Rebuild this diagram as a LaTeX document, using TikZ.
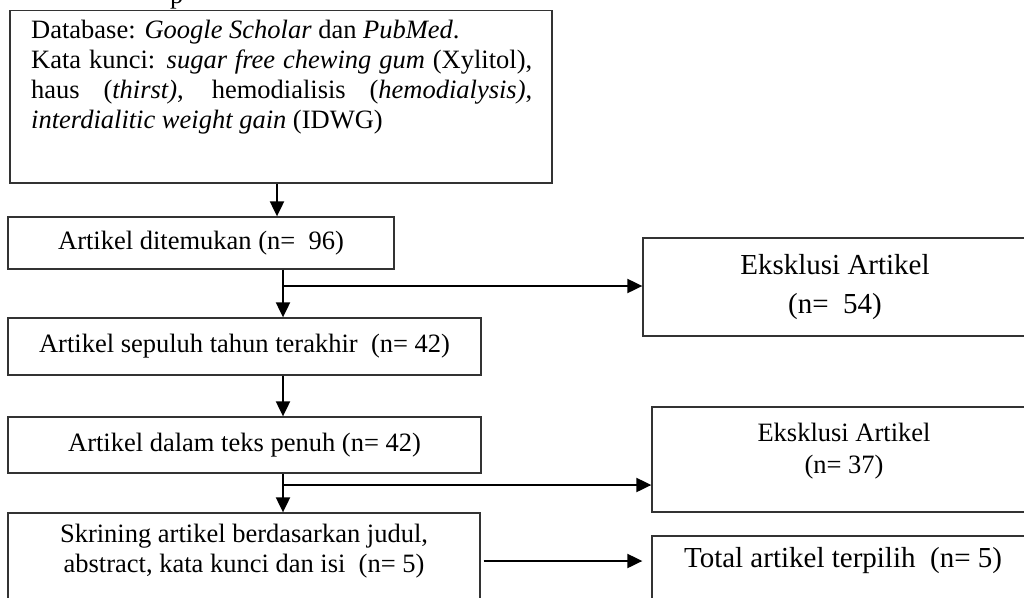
\documentclass[tikz,border=0pt]{standalone}
\usepackage{fontspec}
\setmainfont{Liberation Serif}
\usetikzlibrary{arrows.meta}
\tikzset{
  box/.style={draw=black!80, line width=1.3pt, inner sep=0pt, align=center},
  arr/.style={draw=black, line width=2pt, -{Triangle[length=15pt,width=14pt]}},
  txt/.style={font=\fontsize{26.5}{30}\selectfont},
  txtb/.style={font=\fontsize{26.5}{32}\selectfont},
  bigtxt/.style={font=\fontsize{29}{39}\selectfont},
}
\begin{document}
\begin{tikzpicture}[x=1pt,y=-1pt]
\useasboundingbox (0,0) rectangle (1024,597);
\clip (0,0) rectangle (1024,597);
\fill[white] (0,0) rectangle (1024,597);

% fragment of text above the figure
\node[anchor=base west, inner sep=0pt, txt] (frag) at (170,3) {p};

% boxes
\node[box, minimum width=542pt, minimum height=172.5pt] (db) at (281,96.75) {};
\node[anchor=base west, inner sep=0pt, txt] (dbt) at (31,38) {\parbox[t]{501pt}{Database: \textit{Google Scholar} dan \textit{PubMed}.\\ Kata kunci: \textit{sugar free chewing gum} (Xylitol),\linebreak haus (\textit{thirst)}, hemodialisis (\textit{hemodialysis)},\linebreak \textit{interdialitic weight gain} (IDWG)}};

\node[box, txt, minimum width=386pt, minimum height=52pt] (art1) at (201,243) {Artikel ditemukan (n=~ 96)};
\node[box, bigtxt, minimum width=384pt, minimum height=98pt] (exc1) at (835,287) {Eksklusi Artikel\\(n=~ 54)};
\node[box, txt, minimum width=473pt, minimum height=57pt] (art2) at (244.5,346.5) {Artikel sepuluh tahun terakhir~ (n= 42)};
\node[box, txt, minimum width=473pt, minimum height=56pt] (art3) at (244.5,445) {Artikel dalam teks penuh (n= 42)};

\node[box, minimum width=384pt, minimum height=105pt] (exc2) at (844,459.5) {};
\node[txtb, align=center, inner sep=0pt] (exc2t) at (844,451) {Eksklusi Artikel\\(n= 37)};

\node[box, minimum width=472pt, minimum height=96pt] (scr) at (244,561) {};
\node[txt, align=center, inner sep=0pt] (scrt) at (244,551) {Skrining artikel berdasarkan judul,\\abstract, kata kunci dan isi~ (n= 5)};

\node[box, minimum width=382pt, minimum height=104pt] (tot) at (843,588) {};
\node[bigtxt, align=center, inner sep=0pt] (tott) at (843,561) {Total artikel terpilih~ (n= 5)};

% connectors
\draw[arr] (db.south -| 277,0) -- (art1.north -| 277,0);
\draw[arr] (art1.south -| 283,0) -- (art2.north -| 283,0);
\coordinate (j1) at (283,286);
\draw[arr] (j1) -- (j1 -| exc1.west);
\draw[arr] (art2.south -| 283,0) -- (art3.north -| 283,0);
\draw[arr] (art3.south -| 283,0) -- (scr.north -| 283,0);
\coordinate (j2) at (283,485);
\draw[arr] (j2) -- (j2 -| exc2.west);
\draw[arr] ([xshift=3pt]scr.east) -- ([xshift=-9pt]scr.east -| tot.west);
\end{tikzpicture}
\end{document}
